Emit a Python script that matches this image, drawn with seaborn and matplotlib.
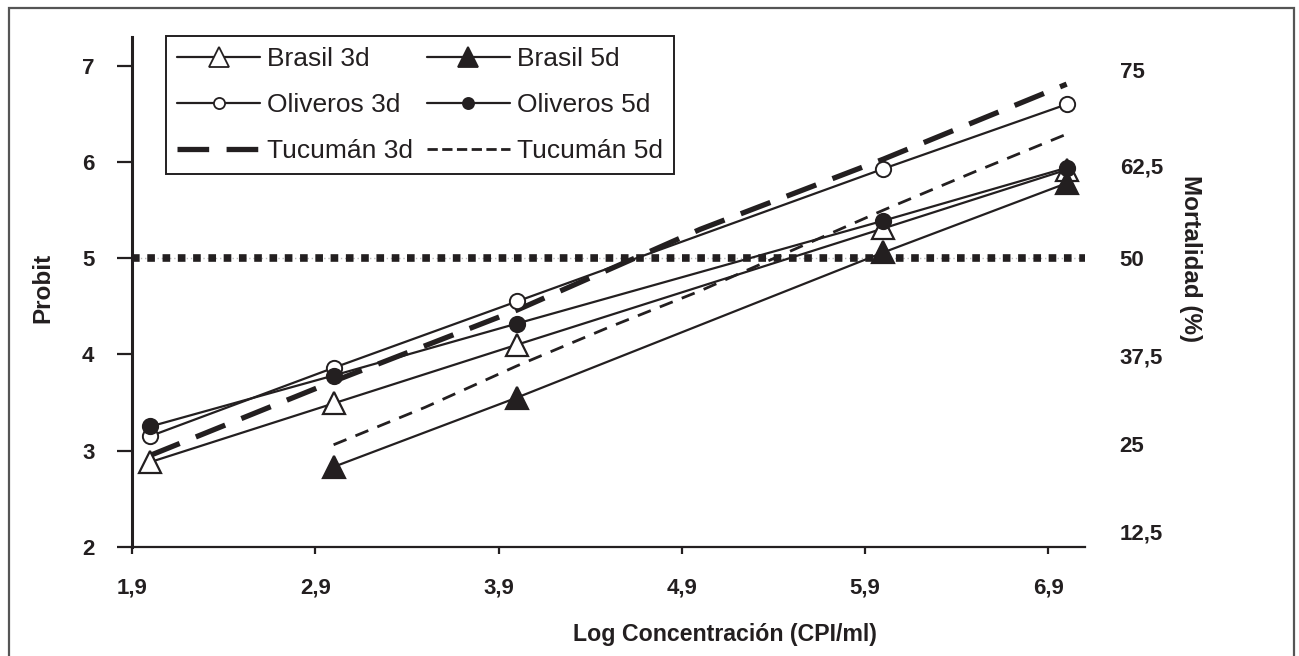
import matplotlib
matplotlib.use("Agg")
import matplotlib.pyplot as plt
import matplotlib.patches as patches
from matplotlib.lines import Line2D
import seaborn as sns

# ---- data ----
x_main = [2, 3, 4, 6, 7]
brasil_3d = [2.88, 3.49, 4.10, 5.31, 5.92]
x_b5 = [3, 4, 6, 7]
brasil_5d = [2.83, 3.55, 5.06, 5.78]
oliveros_3d = [3.15, 3.86, 4.55, 5.93, 6.60]
oliveros_5d = [3.25, 3.78, 4.32, 5.39, 5.94]
x_t3 = [2, 3, 4, 5, 6, 7]
tucuman_3d = [2.95, 3.72, 4.46, 5.30, 6.03, 6.81]
x_t5 = [3, 3.5, 4, 4.5, 5, 5.5, 6, 6.5, 7]
tucuman_5d = [3.06, 3.45, 3.88, 4.28, 4.66, 5.08, 5.50, 5.90, 6.29]
ref_level = 5.0

x_ticks = [1.9, 2.9, 3.9, 4.9, 5.9, 6.9]
x_ticklabels = ["1,9", "2,9", "3,9", "4,9", "5,9", "6,9"]
y_ticks = [2, 3, 4, 5, 6, 7]
right_pos = [2.16, 3.07, 3.99, 5.0, 5.96, 6.96]
right_labels = ["12,5", "25", "37,5", "50", "62,5", "75"]

INK = "#231f20"

sns.set_theme(style="white")
plt.rcParams["font.family"] = ["Liberation Sans", "DejaVu Sans"]

fig = plt.figure(figsize=(12.99, 6.56), dpi=100)
ax = fig.add_axes([132/1299, 1-546.7/656, (1085-132)/1299, (546.7-37)/656])

# figure border
fig.add_artist(patches.Rectangle((9/1299, -0.2), (1294-9)/1299, 1.2 - 8/656,
                                 transform=fig.transFigure, fill=False,
                                 edgecolor="#555555", linewidth=1.6))

# 50% reference line
ax.axhline(ref_level, color="#bbbbbb", linewidth=1.0, linestyle=(0, (1, 2)), zorder=1)
ax.axhline(ref_level, color=INK, linewidth=5.5, linestyle=(0, (1, 1)),
           dash_capstyle="butt", zorder=2)

lw = 1.6
sns.lineplot(x=x_main, y=brasil_3d, ax=ax, color=INK, linewidth=lw, marker="^",
             markersize=16, markerfacecolor="white", markeredgecolor=INK,
             markeredgewidth=1.6, sort=False, zorder=4)
sns.lineplot(x=x_b5, y=brasil_5d, ax=ax, color=INK, linewidth=lw, marker="^",
             markersize=16, markerfacecolor=INK, markeredgecolor=INK,
             markeredgewidth=1.6, sort=False, zorder=4)
sns.lineplot(x=x_main, y=oliveros_3d, ax=ax, color=INK, linewidth=lw, marker="o",
             markersize=11, markerfacecolor="white", markeredgecolor=INK,
             markeredgewidth=1.4, sort=False, zorder=4)
sns.lineplot(x=x_main, y=oliveros_5d, ax=ax, color=INK, linewidth=lw, marker="o",
             markersize=11, markerfacecolor=INK, markeredgecolor=INK,
             markeredgewidth=1.4, sort=False, zorder=4)
sns.lineplot(x=x_t3, y=tucuman_3d, ax=ax, color=INK, linewidth=3.8,
             linestyle=(0, (6, 3.3)), sort=False, zorder=3)
sns.lineplot(x=x_t5, y=tucuman_5d, ax=ax, color=INK, linewidth=2.0,
             linestyle=(0, (5, 3.5)), sort=False, zorder=3)

ax.set_xlim(1.9, 7.1)
ax.set_ylim(2, 7.3)
ax.set_xticks(x_ticks)
ax.set_xticklabels(x_ticklabels)
ax.set_yticks(y_ticks)
ax.set_yticklabels([str(v) for v in y_ticks])

for s in ["top", "right"]:
    ax.spines[s].set_visible(False)
for s in ["left", "bottom"]:
    ax.spines[s].set_color(INK)
ax.spines["left"].set_linewidth(2.2)
ax.spines["bottom"].set_linewidth(1.6)

ax.tick_params(axis="y", direction="out", length=11, width=1.6, color=INK,
               pad=16, labelsize=16, labelcolor=INK, left=True)
ax.tick_params(axis="x", direction="out", length=5, width=1.6, color=INK,
               pad=17, labelsize=16, labelcolor=INK, bottom=True)
for lab in ax.get_xticklabels() + ax.get_yticklabels():
    lab.set_fontweight("bold")

ax.set_xlabel("Log Concentración (CPI/ml)", fontsize=16.7, fontweight="bold", color=INK)
ax.xaxis.set_label_coords(0.622, -0.150)
ax.set_ylabel("Probit", fontsize=17.5, fontweight="bold", color=INK)
ax.yaxis.set_label_coords(-0.081, 0.507)

# right axis
ax2 = ax.twinx()
ax2.set_ylim(ax.get_ylim())
ax2.set_yticks(right_pos)
ax2.set_yticklabels(right_labels)
ax2.tick_params(axis="y", length=0, pad=25, labelsize=16, labelcolor=INK, right=True)
for lab in ax2.get_yticklabels():
    lab.set_fontweight("bold")
for s in ax2.spines.values():
    s.set_visible(False)
ax2.grid(False)
ax2.set_ylabel("Mortalidad (%)", fontsize=17.5, fontweight="bold", color=INK,
               rotation=-90)
ax2.yaxis.set_label_coords(1.123, 0.566)

# legend
lines = ax.get_lines()[2:]
labels = ["Brasil 3d", "Brasil 5d", "Oliveros 3d", "Oliveros 5d", "Tucumán 3d", "Tucumán 5d"]
order = [0, 2, 4, 1, 3, 5]
handles = []
for i in order:
    ln = lines[i]
    h = Line2D([], [], color=INK, linewidth=ln.get_linewidth(), linestyle=ln.get_linestyle(),
               marker=ln.get_marker(), markersize=14,
               markerfacecolor=ln.get_markerfacecolor(), markeredgecolor=INK,
               markeredgewidth=1.3)
    if i == 2 or i == 3:
        h.set_markersize(8)
    if i == 4:
        h.set_dashes((6, 3.3))
    handles.append(h)
leg = ax.legend(handles, [labels[i] for i in order], ncol=2, loc="upper left",
                bbox_to_anchor=(0.0357, 1.002), fontsize=19, frameon=True,
                fancybox=False, framealpha=1, edgecolor=INK, handlelength=3.15,
                handletextpad=0.27, columnspacing=0.5, labelspacing=0.83,
                borderpad=0.42, borderaxespad=0)
leg.get_frame().set_linewidth(1.4)
for t in leg.get_texts():
    t.set_color(INK)

fig.savefig("out.png", dpi=100, facecolor="white")
